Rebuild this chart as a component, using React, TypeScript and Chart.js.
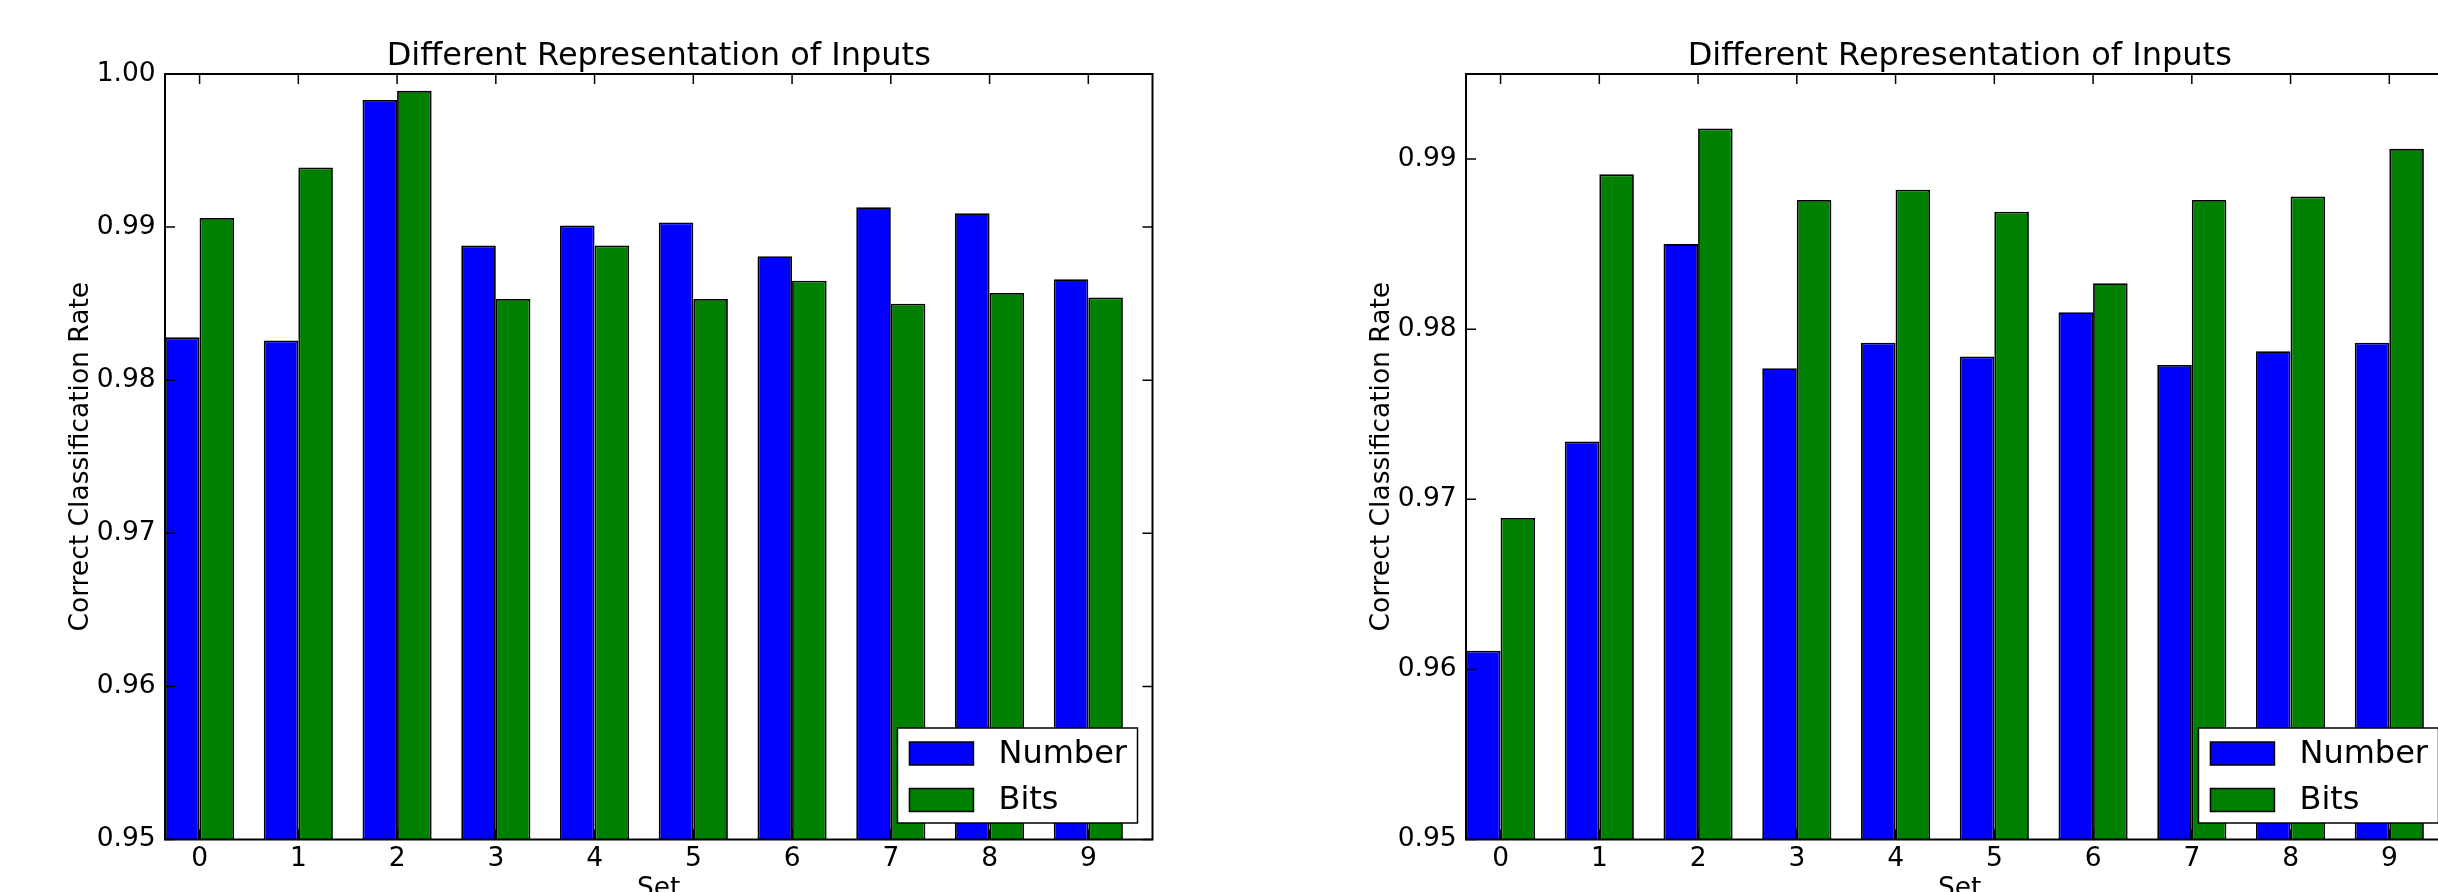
import React, { useEffect, useRef } from "react";
import { Chart, registerables } from "chart.js";

Chart.register(...registerables);

// ---------- data ----------
const categories = [0, 1, 2, 3, 4, 5, 6, 7, 8, 9];
const seriesNames = ["Number", "Bits"];
const seriesColors = ["#0000ff", "#008000"];

const leftNumber = [0.9828, 0.9826, 0.9983, 0.9888, 0.9901, 0.9903, 0.9881, 0.9913, 0.9909, 0.9866];
const leftBits = [0.9906, 0.9939, 0.9989, 0.9853, 0.9888, 0.9853, 0.9865, 0.985, 0.9857, 0.9854];
const rightNumber = [0.9611, 0.9734, 0.985, 0.9777, 0.9792, 0.9784, 0.981, 0.9779, 0.9787, 0.9792];
const rightBits = [0.9689, 0.9891, 0.9918, 0.9876, 0.9882, 0.9869, 0.9827, 0.9876, 0.9878, 0.9906];

const leftYRange = [0.95, 1.0];
const rightYRange = [0.95, 0.995];
const leftYTicks = [0.95, 0.96, 0.97, 0.98, 0.99, 1.0];
const rightYTicks = [0.95, 0.96, 0.97, 0.98, 0.99];
const xRange = [-0.35, 9.65];

const titleText = "Different Representation of Inputs";
const yAxisTitle = "Correct Classification Rate";
const xAxisTitle = "Set";

// ---------- style ----------
const FONT = "'DejaVu Sans', sans-serif";
const CANVAS_W = 1220;
const CANVAS_H = 940;

const mplPlugin = {
  id: "mplDecor",
  afterDatasetsDraw(chart: any) {
    const { ctx, chartArea: a } = chart;
    const xs = chart.scales.x;
    const ys = chart.scales.y;
    const tl = 10;
    ctx.save();
    ctx.strokeStyle = "#000";
    ctx.lineWidth = 1.5;
    ctx.beginPath();
    xs.ticks.forEach((t: any) => {
      const px = xs.getPixelForValue(t.value);
      ctx.moveTo(px, a.top);
      ctx.lineTo(px, a.top + tl);
      ctx.moveTo(px, a.bottom);
      ctx.lineTo(px, a.bottom - tl);
    });
    ys.ticks.forEach((t: any) => {
      const py = ys.getPixelForValue(t.value);
      ctx.moveTo(a.left, py);
      ctx.lineTo(a.left + tl, py);
      ctx.moveTo(a.right, py);
      ctx.lineTo(a.right - tl, py);
    });
    ctx.stroke();
    ctx.lineWidth = 2;
    ctx.strokeRect(a.left, a.top, a.right - a.left, a.bottom - a.top);

    // legend (lower right, inside axes)
    const ds = chart.data.datasets;
    ctx.font = `32px ${FONT}`;
    const textW = Math.max(...ds.map((d: any) => ctx.measureText(d.label).width));
    const padL = 12, handleW = 64, handleH = 23, gap = 25, padR = 10.5;
    const boxW = padL + handleW + gap + textW + padR;
    const boxH = 95;
    const boxRight = a.right - 15;
    const boxBottom = a.bottom - 16.5;
    const bx = boxRight - boxW;
    const by = boxBottom - boxH;
    ctx.fillStyle = "#fff";
    ctx.fillRect(bx, by, boxW, boxH);
    ctx.lineWidth = 1.5;
    ctx.strokeStyle = "#000";
    ctx.strokeRect(bx, by, boxW, boxH);
    ds.forEach((d: any, i: number) => {
      const hy = by + 14 + i * 46.5;
      ctx.fillStyle = d.backgroundColor;
      ctx.fillRect(bx + padL, hy, handleW, handleH);
      ctx.strokeStyle = "#000";
      ctx.lineWidth = 1.5;
      ctx.strokeRect(bx + padL, hy, handleW, handleH);
      ctx.fillStyle = "#000";
      ctx.textAlign = "left";
      ctx.textBaseline = "middle";
      ctx.fillText(d.label, bx + padL + handleW + gap, hy + handleH / 2 + 1);
    });
    ctx.restore();
  },
};

function makeConfig(numberVals: number[], bitsVals: number[], yRange: number[], yTicks: number[]): any {
  const seriesValues = [numberVals, bitsVals];
  return {
    type: "bar",
    data: {
      datasets: seriesNames.map((name, si) => ({
        label: name,
        data: categories.map((c, i) => ({ x: c, y: seriesValues[si][i] })),
        backgroundColor: seriesColors[si],
        borderColor: "#000",
        borderWidth: 1.8,
        borderSkipped: false,
        categoryPercentage: 0.7,
        barPercentage: 1.0,
      })),
    },
    options: {
      animation: false,
      responsive: false,
      devicePixelRatio: 1,
      layout: { padding: { left: 0, right: 67.5, top: 0, bottom: 0 } },
      plugins: {
        legend: { display: false },
        tooltip: { enabled: false },
        title: {
          display: true,
          fullSize: false,
          text: titleText,
          color: "#000",
          font: { family: FONT, size: 32, weight: "normal", lineHeight: 1.1 },
          padding: { top: 38.8, bottom: 0 },
        },
      },
      scales: {
        x: {
          type: "linear",
          min: xRange[0],
          max: xRange[1],
          offset: false,
          grid: { display: false, drawTicks: false },
          border: { display: false },
          afterBuildTicks: (s: any) => {
            s.ticks = categories.map((v) => ({ value: v }));
          },
          afterFit: (s: any) => {
            s.height = CANVAS_H - 839.5;
          },
          ticks: {
            autoSkip: false,
            maxRotation: 0,
            padding: 4.2,
            color: "#000",
            font: { family: FONT, size: 26.5, lineHeight: 1.2 },
            callback: (v: any) => String(v),
          },
          title: {
            display: true,
            text: xAxisTitle,
            color: "#000",
            font: { family: FONT, size: 26.5, lineHeight: 1.2 },
            padding: { top: 0, bottom: 35.3 },
          },
        },
        y: {
          type: "linear",
          min: yRange[0],
          max: yRange[1],
          grid: { display: false, drawTicks: false },
          border: { display: false },
          afterBuildTicks: (s: any) => {
            s.ticks = yTicks.map((v) => ({ value: v }));
          },
          afterFit: (s: any) => {
            s.width = 165;
          },
          ticks: {
            autoSkip: false,
            padding: 9.3,
            color: "#000",
            font: { family: FONT, size: 26.5, lineHeight: 1.2 },
            callback: (v: any) => Number(v).toFixed(2),
          },
          title: {
            display: true,
            text: yAxisTitle,
            color: "#000",
            font: { family: FONT, size: 26.5, lineHeight: 1.2 },
            padding: { top: 64.9, bottom: 0 },
          },
        },
      },
    },
    plugins: [mplPlugin],
  };
}

function Panel(props: { left: number; numberVals: number[]; bitsVals: number[]; yRange: number[]; yTicks: number[] }) {
  const ref = useRef<HTMLCanvasElement | null>(null);
  useEffect(() => {
    if (!ref.current) return;
    const chart = new Chart(ref.current, makeConfig(props.numberVals, props.bitsVals, props.yRange, props.yTicks));
    return () => chart.destroy();
  }, []);
  return (
    <canvas
      ref={ref}
      width={CANVAS_W}
      height={CANVAS_H}
      style={{ position: "absolute", left: props.left, top: 0, width: CANVAS_W, height: CANVAS_H, display: "block" }}
    />
  );
}

export default function App() {
  return (
    <div style={{ position: "absolute", left: 0, top: 0, width: 2438, height: 892, overflow: "hidden", background: "#fff" }}>
      <Panel left={0} numberVals={leftNumber} bitsVals={leftBits} yRange={leftYRange} yTicks={leftYTicks} />
      <Panel left={1301} numberVals={rightNumber} bitsVals={rightBits} yRange={rightYRange} yTicks={rightYTicks} />
    </div>
  );
}
